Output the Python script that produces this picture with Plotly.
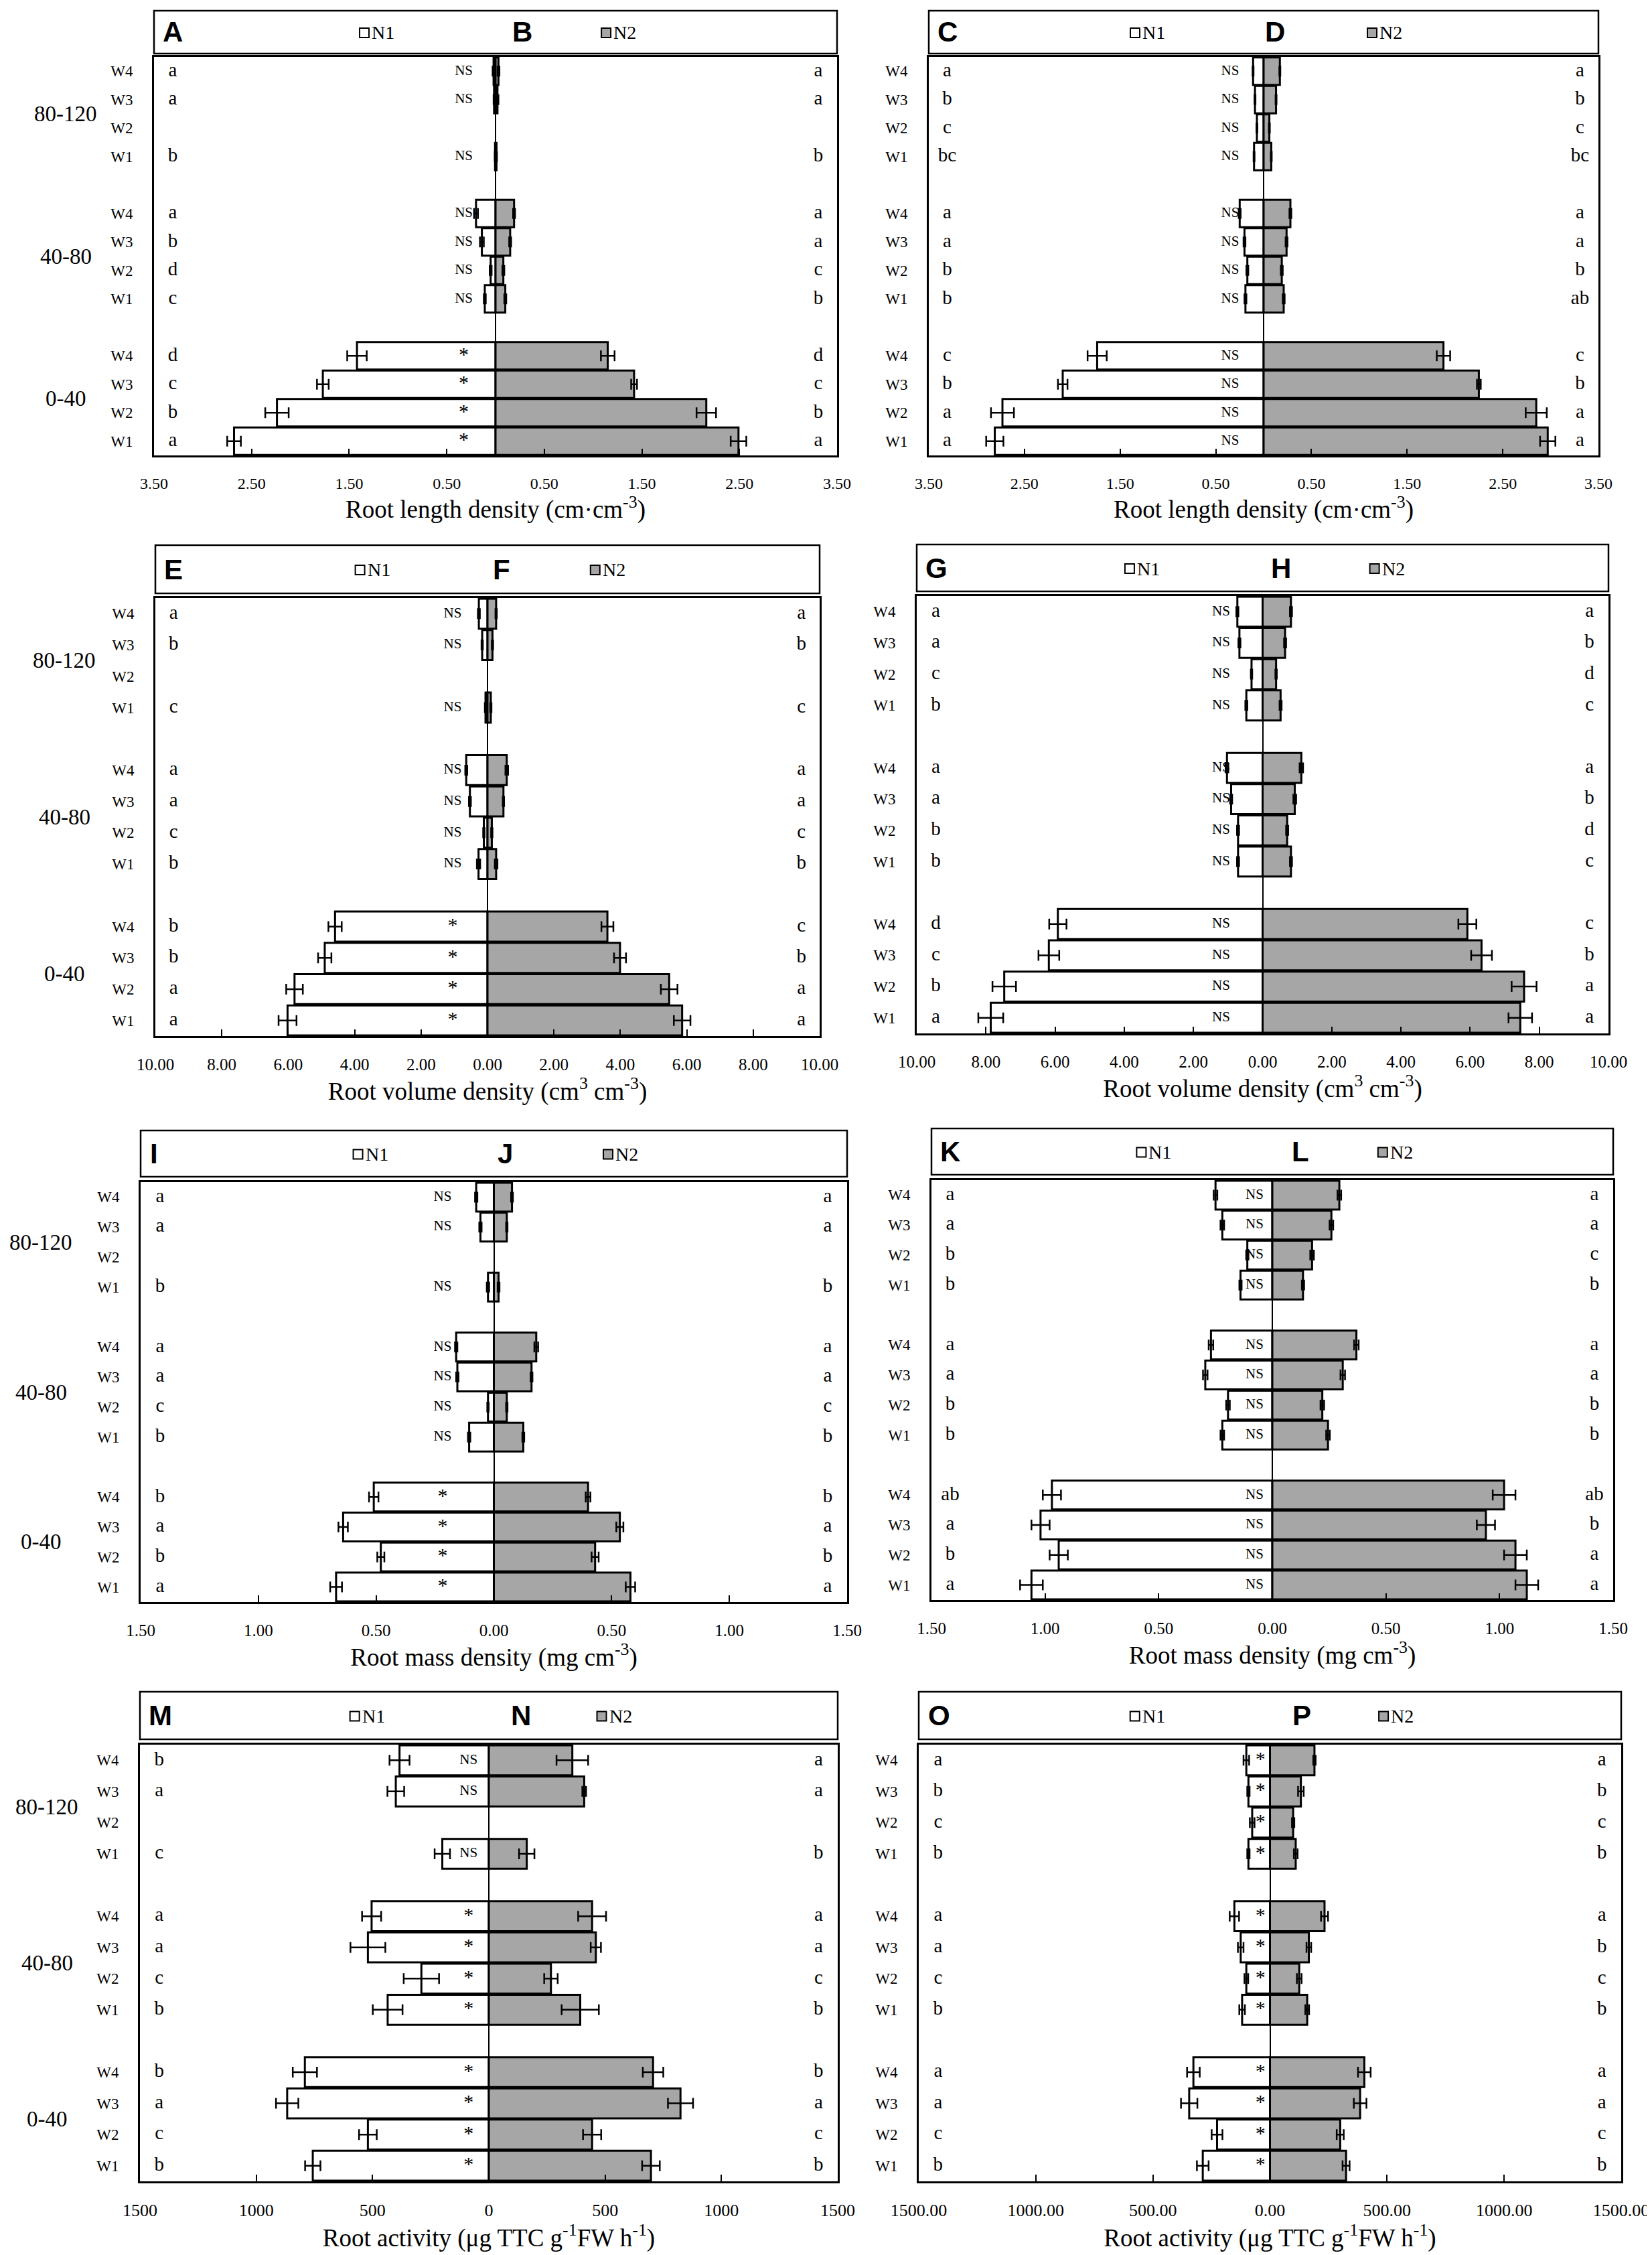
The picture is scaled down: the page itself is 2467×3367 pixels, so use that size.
import plotly.graph_objects as go

FIG_W, FIG_H = 2467, 3367

# ---------------- categories ----------------
depths = ["0-40", "40-80", "80-120"]
water = ["W1", "W2", "W3", "W4"]
# slot of each (depth, water) category on the y axis; two empty slots separate the depths
slots = [0, 1, 2, 3, 5, 6, 7, 8, 10, 11, 12, 13]
depth_slot = [1.5, 6.5, 11.5]

# ---------------- data (order: 0-40 W1..W4, 40-80 W1..W4, 80-120 W1..W4) ----------------
# Root length density, left pair (A = N1, B = N2)
rld_a_n1 = [2.68, 2.24, 1.77, 1.42, 0.11, 0.05, 0.14, 0.20, 0.005, None, 0.015, 0.02]
rld_a_n1_se = [0.07, 0.12, 0.06, 0.10, 0.01, 0.01, 0.02, 0.02, 0.003, None, 0.005, 0.01]
rld_b_n2 = [2.49, 2.16, 1.42, 1.15, 0.10, 0.08, 0.15, 0.19, 0.01, None, 0.02, 0.03]
rld_b_n2_se = [0.08, 0.10, 0.03, 0.07, 0.01, 0.01, 0.01, 0.01, 0.005, None, 0.01, 0.01]
# Root length density, right pair (C = N1, D = N2)
rld_c_n1 = [2.81, 2.73, 2.10, 1.74, 0.19, 0.17, 0.20, 0.25, 0.10, 0.07, 0.09, 0.11]
rld_c_n1_se = [0.09, 0.12, 0.05, 0.10, 0.01, 0.01, 0.01, 0.01, 0.005, 0.005, 0.005, 0.005]
rld_d_n2 = [2.97, 2.85, 2.25, 1.88, 0.21, 0.19, 0.24, 0.28, 0.08, 0.06, 0.13, 0.17]
rld_d_n2_se = [0.08, 0.11, 0.02, 0.07, 0.01, 0.01, 0.01, 0.01, 0.005, 0.005, 0.005, 0.005]
# Root volume density (E/F, G/H)
rvd_e_n1 = [6.02, 5.81, 4.90, 4.59, 0.27, 0.11, 0.53, 0.64, 0.06, None, 0.16, 0.26]
rvd_e_n1_se = [0.27, 0.25, 0.20, 0.20, 0.05, 0.02, 0.03, 0.03, 0.02, None, 0.02, 0.03]
rvd_f_n2 = [5.86, 5.47, 3.99, 3.61, 0.26, 0.13, 0.48, 0.58, 0.10, None, 0.15, 0.26]
rvd_f_n2_se = [0.25, 0.25, 0.18, 0.18, 0.04, 0.02, 0.02, 0.04, 0.02, None, 0.02, 0.02]
rvd_g_n1 = [7.86, 7.47, 6.18, 5.92, 0.71, 0.71, 0.91, 1.03, 0.47, 0.32, 0.67, 0.73]
rvd_g_n1_se = [0.36, 0.34, 0.30, 0.25, 0.03, 0.03, 0.03, 0.04, 0.03, 0.02, 0.03, 0.03]
rvd_h_n2 = [7.45, 7.56, 6.33, 5.92, 0.82, 0.71, 0.93, 1.12, 0.52, 0.39, 0.65, 0.82]
rvd_h_n2_se = [0.34, 0.36, 0.30, 0.26, 0.03, 0.03, 0.04, 0.05, 0.03, 0.02, 0.03, 0.03]
# Root mass density (I/J, K/L)
rmd_i_n1 = [0.67, 0.48, 0.64, 0.51, 0.105, 0.025, 0.155, 0.16, 0.025, None, 0.057, 0.075]
rmd_i_n1_se = [0.025, 0.015, 0.02, 0.02, 0.005, 0.003, 0.005, 0.005, 0.005, None, 0.005, 0.005]
rmd_j_n2 = [0.58, 0.43, 0.535, 0.40, 0.125, 0.055, 0.16, 0.18, 0.02, None, 0.055, 0.077]
rmd_j_n2_se = [0.02, 0.015, 0.015, 0.01, 0.004, 0.003, 0.004, 0.008, 0.004, None, 0.003, 0.004]
rmd_k_n1 = [1.06, 0.94, 1.02, 0.97, 0.22, 0.195, 0.295, 0.27, 0.14, 0.11, 0.22, 0.25]
rmd_k_n1_se = [0.05, 0.04, 0.04, 0.04, 0.008, 0.008, 0.01, 0.01, 0.005, 0.005, 0.008, 0.008]
rmd_l_n2 = [1.12, 1.07, 0.94, 1.02, 0.245, 0.22, 0.31, 0.37, 0.135, 0.175, 0.26, 0.295]
rmd_l_n2_se = [0.05, 0.05, 0.04, 0.05, 0.008, 0.008, 0.01, 0.01, 0.005, 0.008, 0.008, 0.008]
# Root activity (M/N, O/P)
ra_m_n1 = [757, 520, 867, 791, 435, 290, 520, 504, 200, None, 400, 384]
ra_m_n1_se = [33, 38, 48, 52, 64, 76, 75, 41, 33, None, 36, 43]
ra_n_n2 = [697, 444, 824, 706, 393, 267, 460, 444, 163, None, 410, 359]
ra_n_n2_se = [38, 39, 54, 44, 80, 29, 22, 60, 33, None, 8, 68]
ra_o_n1 = [287, 226, 345, 327, 119, 101, 125, 152, 92, 76, 92, 101]
ra_o_n1_se = [25, 23, 35, 27, 12, 8, 12, 20, 5, 10, 5, 12]
ra_p_n2 = [325, 300, 385, 403, 159, 125, 166, 233, 110, 99, 132, 190]
ra_p_n2_se = [15, 15, 27, 27, 8, 10, 10, 15, 8, 5, 12, 5]

# ---------------- significance letters ----------------
let_a = ["a", "b", "c", "d", "c", "d", "b", "a", "b", "", "a", "a"]
let_b = ["a", "b", "c", "d", "b", "c", "a", "a", "b", "", "a", "a"]
let_c = ["a", "a", "b", "c", "b", "b", "a", "a", "bc", "c", "b", "a"]
let_d = ["a", "a", "b", "c", "ab", "b", "a", "a", "bc", "c", "b", "a"]
let_e = ["a", "a", "b", "b", "b", "c", "a", "a", "c", "", "b", "a"]
let_f = ["a", "a", "b", "c", "b", "c", "a", "a", "c", "", "b", "a"]
let_g = ["a", "b", "c", "d", "b", "b", "a", "a", "b", "c", "a", "a"]
let_h = ["a", "a", "b", "c", "c", "d", "b", "a", "c", "d", "b", "a"]
let_i = ["a", "b", "a", "b", "b", "c", "a", "a", "b", "", "a", "a"]
let_j = ["a", "b", "a", "b", "b", "c", "a", "a", "b", "", "a", "a"]
let_k = ["a", "b", "a", "ab", "b", "b", "a", "a", "b", "b", "a", "a"]
let_l = ["a", "a", "b", "ab", "b", "b", "a", "a", "b", "c", "a", "a"]
let_m = ["b", "c", "a", "b", "b", "c", "a", "a", "c", "", "a", "b"]
let_n = ["b", "c", "a", "b", "b", "c", "a", "a", "b", "", "a", "a"]
let_o = ["b", "c", "a", "a", "b", "c", "a", "a", "b", "c", "b", "a"]
let_p = ["b", "c", "a", "a", "b", "c", "b", "a", "b", "c", "b", "a"]

# N1 vs N2 comparison marks
sig_ab = ["*"] * 4 + ["NS"] * 4 + ["NS", "", "NS", "NS"]
sig_cd = ["NS"] * 12
sig_ef = ["*"] * 4 + ["NS"] * 4 + ["NS", "", "NS", "NS"]
sig_gh = ["NS"] * 12
sig_ij = ["*"] * 4 + ["NS"] * 4 + ["NS", "", "NS", "NS"]
sig_kl = ["NS"] * 12
sig_mn = ["*"] * 8 + ["NS", "", "NS", "NS"]
sig_op = ["*"] * 12

# ---------------- tick labels ----------------
ticks_rld = [-3.5, -2.5, -1.5, -0.5, 0.5, 1.5, 2.5, 3.5]
ticktext_rld = ["3.50", "2.50", "1.50", "0.50", "0.50", "1.50", "2.50", "3.50"]
ticks_rvd = [-10, -8, -6, -4, -2, 0, 2, 4, 6, 8, 10]
ticktext_rvd = ["10.00", "8.00", "6.00", "4.00", "2.00", "0.00", "2.00", "4.00", "6.00", "8.00", "10.00"]
ticks_rmd = [-1.5, -1.0, -0.5, 0, 0.5, 1.0, 1.5]
ticktext_rmd = ["1.50", "1.00", "0.50", "0.00", "0.50", "1.00", "1.50"]
ticks_ra = [-1500, -1000, -500, 0, 500, 1000, 1500]
ticktext_ra_m = ["1500", "1000", "500", "0", "500", "1000", "1500"]
ticktext_ra_o = ["1500.00", "1000.00", "500.00", "0.00", "500.00", "1000.00", "1500.00"]

title_rld = "Root length density (cm·cm<sup>-3</sup>)"
title_rvd = "Root volume density (cm<sup>3</sup> cm<sup>-3</sup>)"
title_rmd = "Root mass density (mg cm<sup>-3</sup>)"
title_ra = "Root activity (μg TTC g<sup>-1</sup>FW h<sup>-1</sup>)"

# ---------------- panel layout (pixel geometry) ----------------
panels = [
    dict(L=("A", "B"), n1=rld_a_n1, e1=rld_a_n1_se, n2=rld_b_n2, e2=rld_b_n2_se, l1=let_a, l2=let_b, sig=sig_ab,
         R=3.5, tv=ticks_rld, tt=ticktext_rld, title=title_rld, box=(222, 1242, 77, 672), leg=(8, 72),
         sigx=-0.093, let2=0.523, depth_x=90, tfs=24),
    dict(L=("C", "D"), n1=rld_c_n1, e1=rld_c_n1_se, n2=rld_d_n2, e2=rld_d_n2_se, l1=let_c, l2=let_d, sig=sig_cd,
         R=3.5, tv=ticks_rld, tt=ticktext_rld, title=title_rld, box=(1379, 2379, 77, 672), leg=(8, 72),
         sigx=-0.1, let2=0.50, depth_x=None, tfs=24),
    dict(L=("E", "F"), n1=rvd_e_n1, e1=rvd_e_n1_se, n2=rvd_f_n2, e2=rvd_f_n2_se, l1=let_e, l2=let_f, sig=sig_ef,
         R=10, tv=ticks_rvd, tt=ticktext_rvd, title=title_rvd, box=(224, 1216, 885, 1539), leg=(806, 878),
         sigx=-0.105, let2=0.506, depth_x=88, tfs=25),
    dict(L=("G", "H"), n1=rvd_g_n1, e1=rvd_g_n1_se, n2=rvd_h_n2, e2=rvd_h_n2_se, l1=let_g, l2=let_h, sig=sig_gh,
         R=10, tv=ticks_rvd, tt=ticktext_rvd, title=title_rvd, box=(1361, 2394, 882, 1535), leg=(805, 875),
         sigx=-0.12, let2=0.51, depth_x=None, tfs=25),
    dict(L=("I", "J"), n1=rmd_i_n1, e1=rmd_i_n1_se, n2=rmd_j_n2, e2=rmd_j_n2_se, l1=let_i, l2=let_j, sig=sig_ij,
         R=1.5, tv=ticks_rmd, tt=ticktext_rmd, title=title_rmd, box=(202, 1257, 1757, 2384), leg=(1680, 1749),
         sigx=-0.145, let2=0.503, depth_x=53, tfs=25),
    dict(L=("K", "L"), n1=rmd_k_n1, e1=rmd_k_n1_se, n2=rmd_l_n2, e2=rmd_l_n2_se, l1=let_k, l2=let_l, sig=sig_kl,
         R=1.5, tv=ticks_rmd, tt=ticktext_rmd, title=title_rmd, box=(1383, 2401, 1754, 2381), leg=(1677, 1746),
         sigx=-0.052, let2=0.527, depth_x=None, tfs=25),
    dict(L=("M", "N"), n1=ra_m_n1, e1=ra_m_n1_se, n2=ra_n_n2, e2=ra_n_n2_se, l1=let_m, l2=let_n, sig=sig_mn,
         R=1500, tv=ticks_ra, tt=ticktext_ra_m, title=title_ra, box=(201, 1243, 2597, 3249), leg=(2518, 2589),
         sigx=-0.058, let2=0.53, depth_x=62, tfs=26),
    dict(L=("O", "P"), n1=ra_o_n1, e1=ra_o_n1_se, n2=ra_p_n2, e2=ra_p_n2_se, l1=let_o, l2=let_p, sig=sig_op,
         R=1500, tv=ticks_ra, tt=ticktext_ra_o, title=title_ra, box=(1364, 2413, 2597, 3249), leg=(2518, 2589),
         sigx=-0.027, let2=0.53, depth_x=None, tfs=26),
]

SERIF = "Liberation Serif"
SANS = "Liberation Sans"
GRAY = "#a6a6a6"


def px_x(p):
    return p / FIG_W


def px_y(p):
    return 1 - p / FIG_H


def nonempty(ys, texts):
    pairs = [(y, t) for y, t in zip(ys, texts) if t]
    return [p[0] for p in pairs], [p[1] for p in pairs]


fig = go.Figure()
shapes, annotations = [], []
layout = {}

for k, P in enumerate(panels, start=1):
    xa = "x" if k == 1 else f"x{k}"
    ya = "y" if k == 1 else f"y{k}"
    R = P["R"]
    x0, x1, y0, y1 = P["box"]

    neg_n1 = [(-v if v is not None else None) for v in P["n1"]]
    fig.add_trace(go.Bar(
        x=neg_n1, y=slots, orientation="h", width=0.96, xaxis=xa, yaxis=ya,
        marker=dict(color="white", line=dict(color="black", width=3)),
        error_x=dict(type="data", array=P["e1"], color="black", thickness=2.5, width=8),
        showlegend=False, name="N1"))
    fig.add_trace(go.Bar(
        x=P["n2"], y=slots, orientation="h", width=0.96, xaxis=xa, yaxis=ya,
        marker=dict(color=GRAY, line=dict(color="black", width=3)),
        error_x=dict(type="data", array=P["e2"], color="black", thickness=2.5, width=8),
        showlegend=False, name="N2"))
    # letters
    for side, key in ((-1, "l1"), (1, "l2")):
        ys, ts = nonempty(slots, P[key])
        fig.add_trace(go.Scatter(
            x=[side * 0.945 * R] * len(ys), y=ys, mode="text", text=ts, xaxis=xa, yaxis=ya,
            textfont=dict(family=SERIF, size=29, color="black"), showlegend=False, cliponaxis=False,
            hoverinfo="skip"))
    ys, ts = nonempty(slots, P["sig"])
    fig.add_trace(go.Scatter(
        x=[P["sigx"] * R] * len(ys), y=ys, mode="text", text=ts, xaxis=xa, yaxis=ya,
        textfont=dict(family=SERIF, size=[30 if s == "*" else 21 for s in ts], color="black"),
        showlegend=False, cliponaxis=False, hoverinfo="skip"))

    layout["xaxis" if k == 1 else f"xaxis{k}"] = dict(
        domain=[px_x(x0), px_x(x1)], anchor=ya, range=[-R, R], automargin=False,
        tickmode="array", tickvals=P["tv"], ticktext=P["tt"],
        ticks="inside", ticklen=10, tickwidth=2, tickcolor="black",
        showline=True, mirror=True, linewidth=3, linecolor="black",
        showgrid=False, zeroline=True, zerolinecolor="black", zerolinewidth=2,
        tickfont=dict(family=SERIF, size=P["tfs"], color="black"), ticklabelstandoff=18,
        title=dict(text=P["title"], font=dict(family=SERIF, size=37, color="black"), standoff=12),
        fixedrange=True)
    layout["yaxis" if k == 1 else f"yaxis{k}"] = dict(
        domain=[px_y(y1), px_y(y0)], anchor=xa, range=[-0.5, 13.5], automargin=False,
        tickmode="array", tickvals=slots, ticktext=water * 3, ticks="",
        showline=True, mirror=True, linewidth=3, linecolor="black",
        showgrid=False, zeroline=False,
        tickfont=dict(family=SERIF, size=23, color="black"), ticklabelstandoff=24,
        fixedrange=True)

    # depth labels (left column only)
    if P["depth_x"] is not None:
        for d, s in zip(depths, depth_slot):
            annotations.append(dict(
                x=px_x(P["depth_x"]), xref="paper", y=s, yref=ya, text=d, showarrow=False,
                xanchor="center", yanchor="middle", font=dict(family=SERIF, size=33, color="black")))

    # header box with panel letters and legend keys
    ly0, ly1 = P["leg"]
    w = x1 - x0
    yc = (ly0 + ly1) / 2
    shapes.append(dict(type="rect", xref="paper", yref="paper", x0=px_x(x0), x1=px_x(x1),
                       y0=px_y(ly1), y1=px_y(ly0), line=dict(color="black", width=2.5)))
    annotations.append(dict(x=px_x(x0 + 0.011 * w), xref="paper", y=px_y(yc), yref="paper",
                            text=P["L"][0], showarrow=False, xanchor="left", yanchor="middle",
                            font=dict(family=SANS, size=42, color="black", weight="bold")))
    annotations.append(dict(x=px_x(x0 + P["let2"] * w), xref="paper", y=px_y(yc), yref="paper",
                            text=P["L"][1], showarrow=False, xanchor="left", yanchor="middle",
                            font=dict(family=SANS, size=42, color="black", weight="bold")))
    for frac, fill, lab in ((0.301, "white", "N1"), (0.655, GRAY, "N2")):
        sx = x0 + frac * w
        shapes.append(dict(type="rect", xref="paper", yref="paper", x0=px_x(sx), x1=px_x(sx + 14),
                           y0=px_y(yc + 8), y1=px_y(yc - 6), fillcolor=fill,
                           line=dict(color="black", width=2)))
        annotations.append(dict(x=px_x(sx + 16), xref="paper", y=px_y(yc + 1), yref="paper",
                                text=lab, showarrow=False, xanchor="left", yanchor="middle",
                                font=dict(family=SERIF, size=28, color="black")))

fig.update_layout(
    template="none",
    width=FIG_W, height=FIG_H, margin=dict(l=0, r=0, t=0, b=0, autoexpand=False),
    paper_bgcolor="white", plot_bgcolor="white", barmode="overlay", bargap=0.04,
    shapes=shapes, annotations=annotations, showlegend=False,
    font=dict(family=SERIF, color="black"),
    **layout)

fig.write_html("out.html")
